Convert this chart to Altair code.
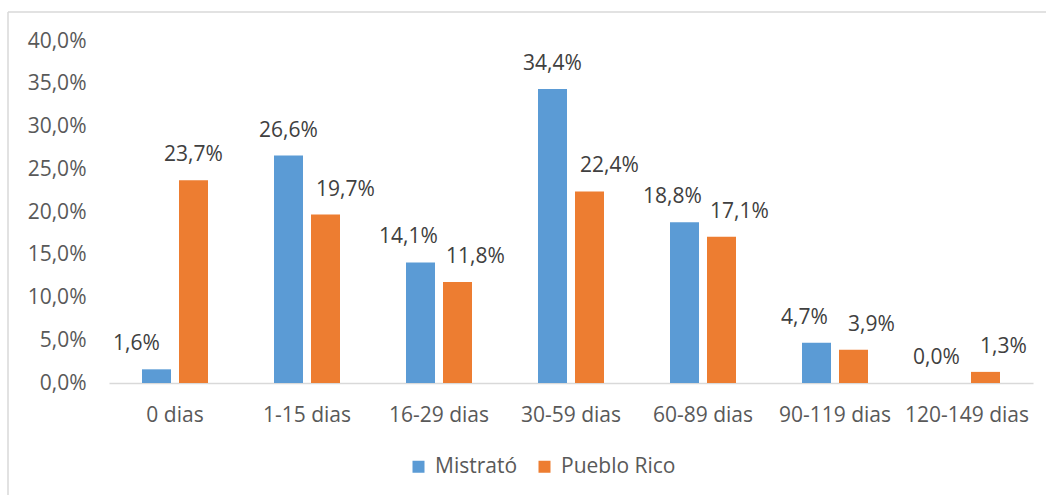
import altair as alt
import pandas as pd

# Days of delay per municipality (share of cases, %)
categories = ["0 dias", "1-15 dias", "16-29 dias", "30-59 dias",
              "60-89 dias", "90-119 dias", "120-149 dias"]
mistrato = [1.6, 26.6, 14.1, 34.4, 18.8, 4.7, 0.0]
pueblo_rico = [23.7, 19.7, 11.8, 22.4, 17.1, 3.9, 1.3]
series = ["Mistrató", "Pueblo Rico"]
colors = ["#5B9BD5", "#ED7D31"]
y_ticks = [0, 5, 10, 15, 20, 25, 30, 35, 40]

FONT = "Open Sans"
FS = 21
AXIS_GRAY = "#595959"
LABEL_GRAY = "#404040"
LINE_GRAY = "#D9D9D9"

W, H = 924, 342
LEFT, TOP = 109, 41


def label_shifts(a, b):
    """Nudge value labels sideways so a pair of labels never sits on a bar."""
    if abs(a - b) < 3:
        return -12, 18
    if a < b:
        return -20, 0
    return 0, 20


rows = []
for cat, a, b in zip(categories, mistrato, pueblo_rico):
    da, db = label_shifts(a, b)
    for name, v, d in ((series[0], a, da), (series[1], b, db)):
        rows.append({
            "categoria": cat,
            "municipio": name,
            "valor": v,
            "etiqueta": f"{v:.1f}".replace(".", ",") + "%",
            "dx": d,
        })
df = pd.DataFrame(rows)

x_enc = alt.X(
    "categoria:N", sort=categories,
    scale=alt.Scale(paddingInner=0.5, paddingOuter=0.25),
    axis=alt.Axis(title=None, labelAngle=0, ticks=False, domainColor=LINE_GRAY,
                  domainWidth=1.5, labelPadding=21, labelFont=FONT,
                  labelFontSize=FS, labelColor=AXIS_GRAY),
)
xoff_enc = alt.XOffset(
    "municipio:N", sort=series,
    scale=alt.Scale(paddingInner=8 / 37, paddingOuter=0),
)
y_enc = alt.Y(
    "valor:Q",
    scale=alt.Scale(domain=[0, 40], nice=False),
    axis=alt.Axis(title=None, values=y_ticks, grid=False, domain=False, ticks=False,
                  labelExpr="replace(format(datum.value, '.1f'), '.', ',') + '%'",
                  labelPadding=23, labelFont=FONT, labelFontSize=FS,
                  labelColor=AXIS_GRAY),
)

base = alt.Chart(df)

bars = base.mark_bar().encode(
    x=x_enc,
    xOffset=xoff_enc,
    y=y_enc,
    color=alt.Color(
        "municipio:N", sort=series,
        scale=alt.Scale(domain=series, range=colors),
        legend=alt.Legend(
            title=None, orient="none", direction="horizontal",
            legendX=299, legendY=415, symbolType="square", symbolSize=144,
            symbolStrokeWidth=0, symbolOpacity=1, labelFont=FONT,
            labelFontSize=FS, labelColor=AXIS_GRAY, labelOffset=6,
            columnPadding=16, padding=0,
        ),
    ),
)

# value labels, one layer per sideways nudge
label_layers = []
for d in sorted(df["dx"].unique()):
    label_layers.append(
        base.transform_filter(alt.FieldEqualPredicate(field="dx", equal=int(d)))
        .mark_text(dx=int(d), dy=-19, baseline="alphabetic", align="center",
                   font=FONT, fontSize=FS, color=LABEL_GRAY)
        .encode(x=x_enc, xOffset=xoff_enc, y=y_enc, text="etiqueta:N")
    )

# thin frame around the chart area (top and left edges)
frame_src = alt.Chart(pd.DataFrame({"k": [0]}))
frame_top = frame_src.mark_rule(color=LINE_GRAY, strokeWidth=1.5).encode(
    x=alt.value(8 - LEFT), x2=alt.value(1046 - LEFT + 5), y=alt.value(12 - TOP)
)
frame_left = frame_src.mark_rule(color=LINE_GRAY, strokeWidth=1.5).encode(
    x=alt.value(8 - LEFT), y=alt.value(12 - TOP), y2=alt.value(495 - TOP + 5)
)

chart = alt.layer(frame_top, frame_left, bars, *label_layers).properties(
    width=W, height=H,
    autosize=alt.AutoSizeParams(type="none"),
    padding={"left": LEFT, "top": TOP, "right": 1046 - LEFT - W,
             "bottom": 495 - TOP - H},
    background="white",
).configure_view(stroke=None)

chart.save("out.html", embed_options={"renderer": "svg", "actions": False})
